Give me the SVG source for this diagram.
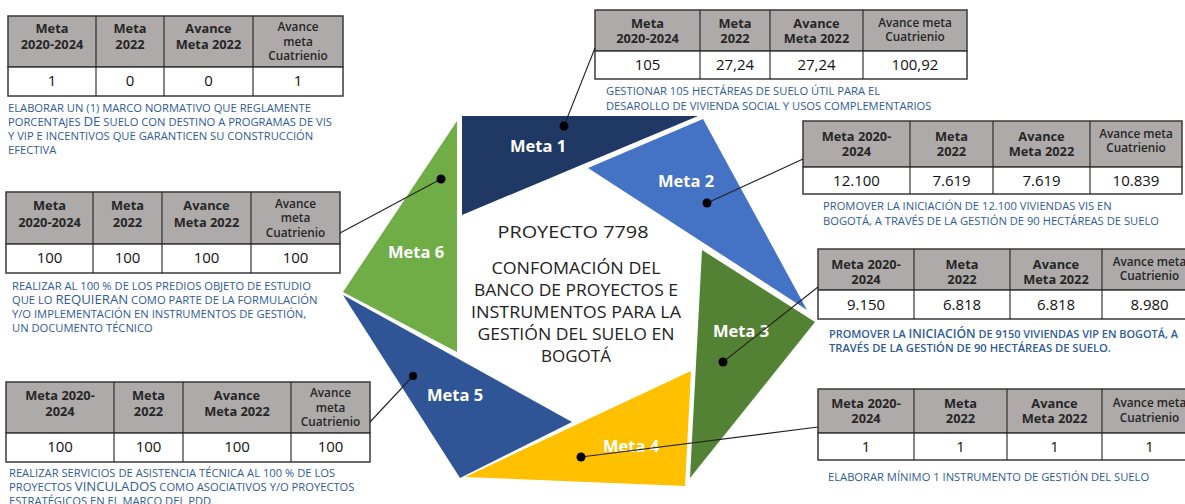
<svg xmlns="http://www.w3.org/2000/svg" width="1185" height="504" viewBox="0 0 1185 504">
<style>
.bg{fill:#ffffff}
.hd{fill:#AEAAAA;stroke:#3a3a3a;stroke-width:1.5}
.vc{fill:#ffffff;stroke:#3a3a3a;stroke-width:1.5}
.h{font-family:"Open Sans","Liberation Sans",sans-serif;font-weight:bold;font-size:12.8px;fill:#262626;text-anchor:middle}
.h4{font-family:"Open Sans","Liberation Sans",sans-serif;font-weight:600;font-size:11.8px;fill:#262626;text-anchor:middle}
.v{font-family:"Open Sans","Liberation Sans",sans-serif;font-size:15px;fill:#111;text-anchor:middle}
.d{font-family:"Open Sans","Liberation Sans",sans-serif;font-size:11.2px;fill:#2F5B96}
.big{font-size:13.2px}
.ml{font-family:"Open Sans","Liberation Sans",sans-serif;font-weight:bold;font-size:16.5px;fill:#ffffff;text-anchor:middle}
.ct{font-family:"Open Sans","Liberation Sans",sans-serif;font-size:16px;fill:#222;text-anchor:middle}
.ln{stroke:#222;stroke-width:1.1;fill:none}
.dot{fill:#000}
</style>
<rect class="bg" x="0" y="0" width="1185" height="504"/>

<!-- central shapes -->
<g id="meta1">
<polygon points="462,116 698,116 462,215" fill="#203864"/>
<text class="ml" x="538" y="152">Meta 1</text>
</g>
<g id="meta2">
<polygon points="703,119 588,168 807,310" fill="#4472C4"/>
<text class="ml" x="686" y="187">Meta 2</text>
</g>
<g id="meta3">
<polygon points="702,250 815,322 690,478" fill="#548235"/>
<text class="ml" x="741" y="337">Meta 3</text>
</g>
<g id="meta4">
<polygon points="691,371 685,486 465,477" fill="#FFC000"/>
<text class="ml" x="631" y="452">Meta 4</text>
</g>
<g id="meta5">
<polygon points="343,295 572,422 460,478" fill="#2F5597"/>
<text class="ml" x="455" y="401">Meta 5</text>
</g>
<g id="meta6">
<polygon points="457,121 343,292 457,352" fill="#70AD47"/>
<text class="ml" x="416" y="258">Meta 6</text>
</g>

<g id="center-title">
<text class="ct" x="573" y="238" font-size="17.5" textLength="151" lengthAdjust="spacingAndGlyphs">PROYECTO 7798</text>
<text class="ct" x="576" y="274" textLength="169" lengthAdjust="spacingAndGlyphs">CONFOMACIÓN DEL</text>
<text class="ct" x="576" y="296" textLength="204" lengthAdjust="spacingAndGlyphs">BANCO DE PROYECTOS E</text>
<text class="ct" x="576" y="318" textLength="210" lengthAdjust="spacingAndGlyphs">INSTRUMENTOS PARA LA</text>
<text class="ct" x="576" y="340" textLength="197" lengthAdjust="spacingAndGlyphs">GESTIÓN DEL SUELO EN</text>
<text class="ct" x="576" y="362" textLength="70" lengthAdjust="spacingAndGlyphs">BOGOTÁ</text>
</g>

<!-- Table for Meta 1 -->
<g id="table-meta1">
<rect class="hd" x="595" y="10" width="372" height="41"/>
<rect class="vc" x="595" y="51" width="372" height="28"/>
<line class="ln" x1="700" y1="10" x2="700" y2="79"/>
<line class="ln" x1="770" y1="10" x2="770" y2="79"/>
<line class="ln" x1="863" y1="10" x2="863" y2="79"/>
<text class="h" x="647.5" y="28">Meta</text><text class="h" x="647.5" y="43">2020-2024</text>
<text class="h" x="735" y="28">Meta</text><text class="h" x="735" y="43">2022</text>
<text class="h" x="816.5" y="28">Avance</text><text class="h" x="816.5" y="43">Meta 2022</text>
<text class="h4" x="915" y="27">Avance meta</text><text class="h4" x="915" y="41">Cuatrienio</text>
<text class="v" x="647.5" y="70">105</text>
<text class="v" x="735" y="70">27,24</text>
<text class="v" x="816.5" y="70">27,24</text>
<text class="v" x="915" y="70">100,92</text>
<text class="d" x="606" y="95">GESTIONAR 105 HECTÁREAS DE SUELO ÚTIL PARA EL</text>
<text class="d" x="606" y="110">DESAROLLO DE VIVIENDA SOCIAL Y USOS COMPLEMENTARIOS</text>
</g>

<!-- Table for Meta 2 -->
<g id="table-meta2">
<rect class="hd" x="803" y="121" width="379" height="46"/>
<rect class="vc" x="803" y="167" width="379" height="27"/>
<line class="ln" x1="910" y1="121" x2="910" y2="194"/>
<line class="ln" x1="993" y1="121" x2="993" y2="194"/>
<line class="ln" x1="1090" y1="121" x2="1090" y2="194"/>
<text class="h" x="856.5" y="141">Meta 2020-</text><text class="h" x="856.5" y="156">2024</text>
<text class="h" x="951.5" y="141">Meta</text><text class="h" x="951.5" y="156">2022</text>
<text class="h" x="1041.5" y="141">Avance</text><text class="h" x="1041.5" y="156">Meta 2022</text>
<text class="h4" x="1136" y="138">Avance meta</text><text class="h4" x="1136" y="152">Cuatrienio</text>
<text class="v" x="856.5" y="186">12.100</text>
<text class="v" x="951.5" y="186">7.619</text>
<text class="v" x="1041.5" y="186">7.619</text>
<text class="v" x="1136" y="186">10.839</text>
<text class="d" x="823" y="210">PROMOVER LA INICIACIÓN DE 12.100 VIVIENDAS VIS EN</text>
<text class="d" x="823" y="225">BOGOTÁ, A TRAVÉS DE LA GESTIÓN DE 90 HECTÁREAS DE SUELO</text>
</g>

<!-- Table for Meta 3 -->
<g id="table-meta3">
<rect class="hd" x="818" y="249" width="379" height="41"/>
<rect class="vc" x="818" y="290" width="379" height="29"/>
<line class="ln" x1="914" y1="249" x2="914" y2="319"/>
<line class="ln" x1="1010" y1="249" x2="1010" y2="319"/>
<line class="ln" x1="1102" y1="249" x2="1102" y2="319"/>
<text class="h" x="866" y="269">Meta 2020-</text><text class="h" x="866" y="284">2024</text>
<text class="h" x="962" y="269">Meta</text><text class="h" x="962" y="284">2022</text>
<text class="h" x="1056" y="269">Avance</text><text class="h" x="1056" y="284">Meta 2022</text>
<text class="h4" x="1149.5" y="266">Avance meta</text><text class="h4" x="1149.5" y="280">Cuatrienio</text>
<text class="v" x="866" y="310">9.150</text>
<text class="v" x="962" y="310">6.818</text>
<text class="v" x="1056" y="310">6.818</text>
<text class="v" x="1149.5" y="310">8.980</text>
<text class="d" x="829" y="338" font-size="10.8" font-weight="600" textLength="349" lengthAdjust="spacingAndGlyphs">PROMOVER LA <tspan font-size="12.5">INICIACIÓN</tspan> DE 9150 VIVIENDAS VIP EN BOGOTÁ, A</text>
<text class="d" x="829" y="352" font-size="10.8" font-weight="600">TRAVÉS DE LA GESTIÓN DE 90 HECTÁREAS DE SUELO.</text>
</g>

<!-- Table for Meta 4 -->
<g id="table-meta4">
<rect class="hd" x="818" y="389" width="379" height="44"/>
<rect class="vc" x="818" y="433" width="379" height="27"/>
<line class="ln" x1="914" y1="389" x2="914" y2="460"/>
<line class="ln" x1="1007" y1="389" x2="1007" y2="460"/>
<line class="ln" x1="1102" y1="389" x2="1102" y2="460"/>
<text class="h" x="866" y="408">Meta 2020-</text><text class="h" x="866" y="423">2024</text>
<text class="h" x="960.5" y="408">Meta</text><text class="h" x="960.5" y="423">2022</text>
<text class="h" x="1054.5" y="408">Avance</text><text class="h" x="1054.5" y="423">Meta 2022</text>
<text class="h4" x="1149.5" y="407">Avance meta</text><text class="h4" x="1149.5" y="422">Cuatrienio</text>
<text class="v" x="866" y="452">1</text>
<text class="v" x="960.5" y="452">1</text>
<text class="v" x="1054.5" y="452">1</text>
<text class="v" x="1149.5" y="452">1</text>
<text class="d" x="828" y="481">ELABORAR MÍNIMO 1 INSTRUMENTO DE GESTIÓN DEL SUELO</text>
</g>

<!-- Table for Meta 5 -->
<g id="table-meta5">
<rect class="hd" x="6" y="382" width="364" height="51"/>
<rect class="vc" x="6" y="433" width="364" height="29"/>
<line class="ln" x1="114" y1="382" x2="114" y2="462"/>
<line class="ln" x1="183" y1="382" x2="183" y2="462"/>
<line class="ln" x1="291" y1="382" x2="291" y2="462"/>
<text class="h" x="60" y="400">Meta 2020-</text><text class="h" x="60" y="416">2024</text>
<text class="h" x="148.5" y="400">Meta</text><text class="h" x="148.5" y="416">2022</text>
<text class="h" x="237" y="400">Avance</text><text class="h" x="237" y="416">Meta 2022</text>
<text class="h4" x="330.5" y="397">Avance</text><text class="h4" x="330.5" y="412">meta</text><text class="h4" x="330.5" y="426">Cuatrienio</text>
<text class="v" x="60" y="452">100</text>
<text class="v" x="148.5" y="452">100</text>
<text class="v" x="237" y="452">100</text>
<text class="v" x="330.5" y="452">100</text>
<text class="d" x="9" y="477">REALIZAR SERVICIOS DE ASISTENCIA TÉCNICA AL 100 % DE LOS</text>
<text class="d" x="9" y="491">PROYECTOS <tspan class="big">VINCULADOS</tspan> COMO ASOCIATIVOS Y/O PROYECTOS</text>
<text class="d" x="9" y="505">ESTRATÉGICOS EN EL MARCO DEL PDD</text>
</g>

<!-- Table for Meta 6 -->
<g id="table-meta6">
<rect class="hd" x="6" y="192" width="334" height="52"/>
<rect class="vc" x="6" y="244" width="334" height="29"/>
<line class="ln" x1="93" y1="192" x2="93" y2="273"/>
<line class="ln" x1="162" y1="192" x2="162" y2="273"/>
<line class="ln" x1="251" y1="192" x2="251" y2="273"/>
<text class="h" x="49.5" y="210">Meta</text><text class="h" x="49.5" y="227">2020-2024</text>
<text class="h" x="127.5" y="210">Meta</text><text class="h" x="127.5" y="227">2022</text>
<text class="h" x="206.5" y="210">Avance</text><text class="h" x="206.5" y="227">Meta 2022</text>
<text class="h4" x="295.5" y="208">Avance</text><text class="h4" x="295.5" y="222">meta</text><text class="h4" x="295.5" y="237">Cuatrienio</text>
<text class="v" x="49.5" y="263">100</text>
<text class="v" x="127.5" y="263">100</text>
<text class="v" x="206.5" y="263">100</text>
<text class="v" x="295.5" y="263">100</text>
<text class="d" x="12" y="290">REALIZAR AL 100 % DE LOS PREDIOS OBJETO DE ESTUDIO</text>
<text class="d" x="12" y="304">QUE LO <tspan class="big">REQUIERAN</tspan> COMO PARTE DE LA FORMULACIÓN</text>
<text class="d" x="12" y="318">Y/O IMPLEMENTACIÓN EN INSTRUMENTOS DE GESTIÓN,</text>
<text class="d" x="12" y="332">UN DOCUMENTO TÉCNICO</text>
</g>

<!-- Table for (top-left) -->
<g id="table-top-left">
<rect class="hd" x="8" y="16" width="335" height="51"/>
<rect class="vc" x="8" y="67" width="335" height="29"/>
<line class="ln" x1="96" y1="16" x2="96" y2="96"/>
<line class="ln" x1="164" y1="16" x2="164" y2="96"/>
<line class="ln" x1="253" y1="16" x2="253" y2="96"/>
<text class="h" x="52" y="33">Meta</text><text class="h" x="52" y="49">2020-2024</text>
<text class="h" x="130" y="33">Meta</text><text class="h" x="130" y="49">2022</text>
<text class="h" x="208.5" y="33">Avance</text><text class="h" x="208.5" y="49">Meta 2022</text>
<text class="h4" x="298" y="31">Avance</text><text class="h4" x="298" y="46">meta</text><text class="h4" x="298" y="60">Cuatrienio</text>
<text class="v" x="52" y="86">1</text>
<text class="v" x="130" y="86">0</text>
<text class="v" x="208.5" y="86">0</text>
<text class="v" x="298" y="86">1</text>
<text class="d" x="8" y="112">ELABORAR UN (1) MARCO NORMATIVO QUE REGLAMENTE</text>
<text class="d" x="8" y="126">PORCENTAJES <tspan class="big">DE</tspan> SUELO CON DESTINO A PROGRAMAS DE VIS</text>
<text class="d" x="8" y="140">Y VIP E INCENTIVOS QUE GARANTICEN SU CONSTRUCCIÓN</text>
<text class="d" x="8" y="154">EFECTIVA</text>
</g>

<!-- connectors -->
<g id="connectors">
<line class="ln" x1="564" y1="126" x2="595" y2="48"/>
<line class="ln" x1="707" y1="203" x2="803" y2="159"/>
<line class="ln" x1="723" y1="362" x2="818" y2="287"/>
<line class="ln" x1="581" y1="457" x2="818" y2="427"/>
<line class="ln" x1="413" y1="376" x2="370" y2="422"/>
<line class="ln" x1="441" y1="179" x2="340" y2="233"/>
<circle class="dot" cx="564" cy="126" r="4.5"/>
<circle class="dot" cx="707" cy="203" r="4.5"/>
<circle class="dot" cx="723" cy="362" r="4.5"/>
<circle class="dot" cx="581" cy="457" r="4.5"/>
<circle class="dot" cx="413" cy="376" r="4"/>
<circle class="dot" cx="441" cy="179" r="4.5"/>
</g>
</svg>
